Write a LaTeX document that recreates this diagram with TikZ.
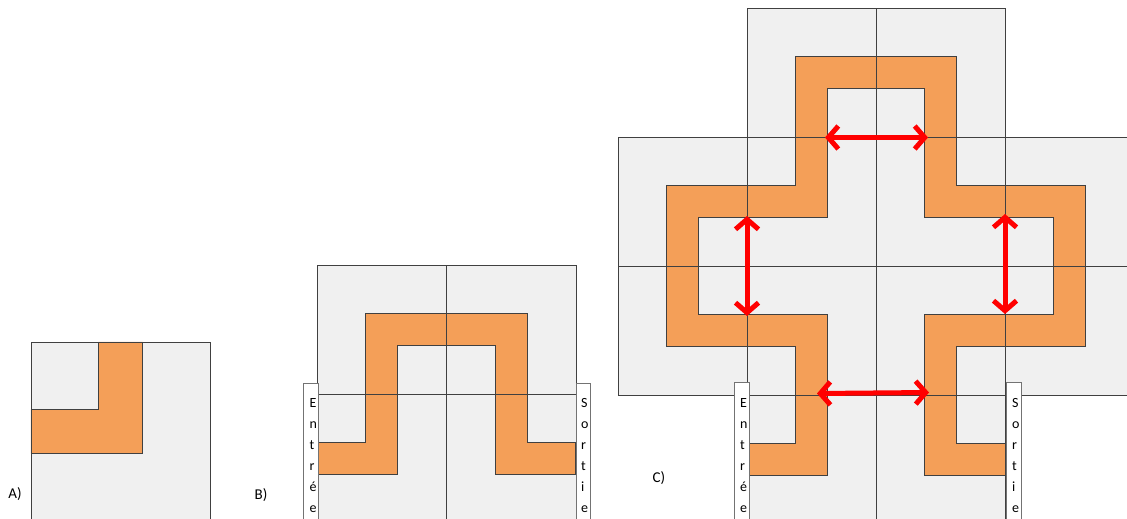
\documentclass[tikz,border=0pt]{standalone}
\usepackage{fontspec}
\newfontfamily\carlito{Carlito}
\usetikzlibrary{arrows.meta}
\definecolor{tilegray}{RGB}{240,240,240}
\definecolor{pieceorange}{RGB}{244,159,88}
\tikzset{
  tile/.style={fill=tilegray,draw=black!75,line width=0.9pt},
  piece/.style={fill=pieceorange,draw=black!75,line width=0.9pt},
  labelbox/.style={fill=white,draw=black!55,line width=0.9pt},
  vword/.style={inner sep=0pt,align=left,anchor=north west,font={\carlito\fontsize{14}{21}\selectfont}},
  lbl/.style={inner sep=0pt,font={\carlito\fontsize{15}{18}\selectfont}},
  redarrow/.style={draw=red,line width=5pt,
    {Straight Barb[length=10pt,width=23pt]}-{Straight Barb[length=10pt,width=23pt]}},
  bend/.pic={\path[piece] (-16,64.5) -- (-16,-16) -- (64.5,-16) -- (64.5,16) -- (16,16) -- (16,64.5) -- cycle;}
}
\begin{document}
\begin{tikzpicture}[x=1pt,y=-1pt]
\useasboundingbox (0,0) rectangle (1127,519);
\clip (0,0) rectangle (1127,519);
% ---------- A ----------
\path[tile] (31,342) rectangle (210,530);
\pic[scale=-1.388] at (120.5,431.5) {bend};
\node[lbl] (labA) at (15,494) {A)};
% ---------- B ----------
\path[tile] (317,265) rectangle (446,394);
\path[tile] (446,265) rectangle (576,394);
\path[tile] (317,394) rectangle (446,530);
\path[tile] (446,394) rectangle (576,530);
\pic at (381.5,329.5) {bend};
\pic[xscale=-1] at (511,329.5) {bend};
\pic[scale=-1] at (381.5,458.5) {bend};
\pic[yscale=-1] at (511,458.5) {bend};
\path[labelbox] (303,383) rectangle (318,530);
\path[labelbox] (576,383) rectangle (590,530);
\node[vword] (entB) at (309.5,398) {E\\n\\t\\r\\é\\e};
\node[vword] (sorB) at (581,398) {S\\o\\r\\t\\i\\e};
\node[lbl] (labB) at (261,495) {B)};
% ---------- C ----------
\foreach \cx/\cy in {747/8,876/8,
                     618/137,747/137,876/137,1005/137,
                     618/266,747/266,876/266,1005/266,
                     747/395,876/395}{
  \path[tile] (\cx,\cy) rectangle ++(129,129);
}
\pic at (811.5,72.5) {bend};
\pic[xscale=-1] at (940.5,72.5) {bend};
\pic at (682.5,201.5) {bend};
\pic[scale=-1] at (811.5,201.5) {bend};
\pic[yscale=-1] at (940.5,201.5) {bend};
\pic[xscale=-1] at (1069.5,201.5) {bend};
\pic[yscale=-1] at (682.5,330.5) {bend};
\pic[xscale=-1] at (811.5,330.5) {bend};
\pic at (940.5,330.5) {bend};
\pic[scale=-1] at (1069.5,330.5) {bend};
\pic[scale=-1] at (811.5,459.5) {bend};
\pic[yscale=-1] at (940.5,459.5) {bend};
\path[labelbox] (734,382) rectangle (749,530);
\path[labelbox] (1006,382) rectangle (1021,530);
\node[vword] (entC) at (740,398) {E\\n\\t\\r\\é\\e};
\node[vword] (sorC) at (1012,398) {S\\o\\r\\t\\i\\e};
\node[lbl] (labC) at (659,478) {C)};
% junction points
\coordinate (jTopL) at (825,137.5);
\coordinate (jTopR) at (928,137.5);
\coordinate (jLeftT) at (747,216);
\coordinate (jLeftB) at (747,316);
\coordinate (jRightT) at (1005,214);
\coordinate (jRightB) at (1005,314);
\coordinate (jBotL) at (817,393.5);
\coordinate (jBotR) at (929,392.5);
\draw[redarrow] (jTopL) -- (jTopR);
\draw[redarrow] (jLeftT) -- (jLeftB);
\draw[redarrow] (jRightT) -- (jRightB);
\draw[redarrow] (jBotL) -- (jBotR);
\end{tikzpicture}
\end{document}
